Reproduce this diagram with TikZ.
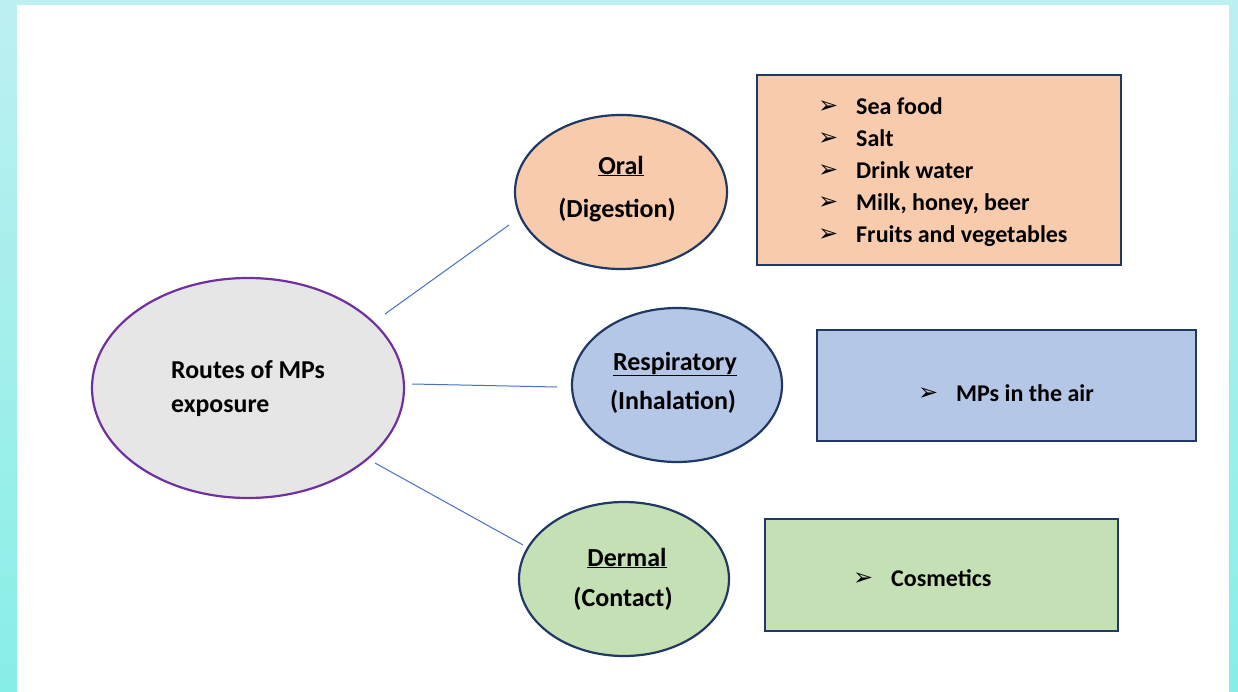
\documentclass[tikz,border=0pt]{standalone}
\usepackage{fontspec}
\setmainfont{Carlito}
\newfontfamily\dingfont{DejaVu Sans}
\usetikzlibrary{shapes.geometric}
\definecolor{bgtop}{HTML}{BDF0F0}
\definecolor{bgbot}{HTML}{88EEE8}
\definecolor{centfill}{HTML}{E7E6E6}
\definecolor{centline}{HTML}{7030A0}
\definecolor{navy}{HTML}{203864}
\definecolor{oralfill}{HTML}{F8CBAD}
\definecolor{respfill}{HTML}{B4C7E7}
\definecolor{dermfill}{HTML}{C5E0B4}
\definecolor{linkcol}{HTML}{4472C4}
\newcommand{\arrbul}{\makebox[38pt][l]{\raisebox{0.5pt}{\dingfont\fontsize{24}{24}\selectfont ➢}}}
\tikzset{
  route/.style={ellipse, draw=navy, line width=2.2pt, inner sep=0pt},
  routetxt/.style={inner sep=0pt, font=\bfseries\fontsize{26}{26}\selectfont},
  listbox/.style={rectangle, draw=navy, line width=2.8pt, inner sep=0pt},
  listtext/.style={align=left, inner sep=0pt, font=\bfseries\fontsize{24}{32}\selectfont},
  link/.style={draw=linkcol, line width=1pt}
}
\begin{document}
\begin{tikzpicture}[x=1pt,y=-1pt]
\useasboundingbox (0,0) rectangle (1238,692);
\shade[top color=bgtop, bottom color=bgbot] (0,0) rectangle (1238,692);
\fill[white] (17,5) rectangle (1229,692);
% central
\node[ellipse, draw=centline, fill=centfill, line width=2.2pt, minimum width=312pt, minimum height=220pt, inner sep=0pt] (cent) at (248,388) {};
\node[align=left, inner sep=0pt, font=\bfseries\fontsize{25.8}{34}\selectfont, anchor=west] (centtxt) at (171,389) {Routes of MPs\\exposure};
% route ellipses
\node[route, fill=oralfill, minimum width=212pt, minimum height=154pt] (oral) at (621,192) {};
\node[routetxt] (oralt1) at (621,166) {\underline{Oral}};
\node[routetxt] (oralt2) at (617,210) {(Digestion)};
\node[route, fill=respfill, minimum width=210pt, minimum height=154pt] (resp) at (677,385) {};
\node[routetxt] (respt1) at (675,364) {\underline{Respiratory}};
\node[routetxt] (respt2) at (673,402) {(Inhalation)};
\node[route, fill=dermfill, minimum width=210pt, minimum height=154pt] (derm) at (624,579) {};
\node[routetxt] (dermt1) at (627,558) {\underline{Dermal}};
\node[routetxt] (dermt2) at (623,599) {(Contact)};
% boxes
\node[listbox, fill=oralfill, minimum width=364pt, minimum height=190pt] (oralbox) at (939,170) {};
\node[listtext, anchor=west] (orallist) at (818,172) {\arrbul Sea food\\\arrbul Salt\\\arrbul Drink water\\\arrbul Milk, honey, beer\\\arrbul Fruits and vegetables};
\node[listbox, fill=respfill, minimum width=379pt, minimum height=111pt] (respbox) at (1006.5,385.5) {};
\node[listtext, anchor=west] (resplist) at (918,393) {\arrbul MPs in the air};
\node[listbox, fill=dermfill, minimum width=353pt, minimum height=112pt] (dermbox) at (941.5,575) {};
\node[listtext, anchor=west] (dermlist) at (853,578) {\arrbul Cosmetics};
% connectors
\coordinate (c1) at (385,314); \coordinate (o1) at (509,225);
\coordinate (c2) at (412,384); \coordinate (r1) at (557,387);
\coordinate (c3) at (375,463); \coordinate (d1) at (523,545);
\draw[link] (c1) -- (o1);
\draw[link] (c2) -- (r1);
\draw[link] (c3) -- (d1);
\end{tikzpicture}
\end{document}
